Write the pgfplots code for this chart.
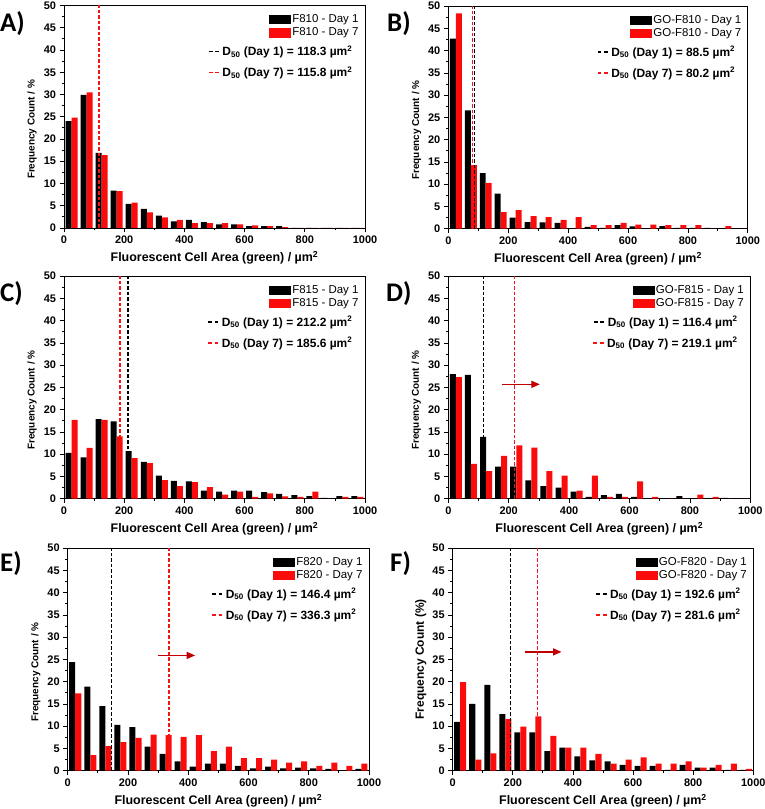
\documentclass[border=0pt]{standalone}
\usepackage{fontspec}
\setmainfont{Liberation Sans}
\newfontfamily\carlito{Carlito}
\usepackage{pgfplots}
\usepackage{pgfplotstable}
\pgfplotsset{compat=1.18}
\usetikzlibrary{arrows.meta}
\definecolor{barred}{RGB}{250,12,12}
\definecolor{arrowred}{RGB}{192,0,0}
\definecolor{dashred}{RGB}{245,20,20}

% x = bin centre, b = Day 1, r = Day 7
\pgfplotstableread{
x b r
25 24.0 24.8
75 29.9 30.5
125 16.9 16.4
175 8.4 8.3
225 5.4 5.7
275 4.3 3.5
325 2.8 2.4
375 1.5 1.8
425 1.8 1.1
475 1.3 1.1
525 0.8 1.1
575 0.8 0.8
625 0.4 0.6
675 0.4 0.4
725 0.4 0.2
775 0 0
825 0 0
875 0 0
925 0 0
975 0 0
}\tabA
\pgfplotstableread{
x b r
25 42.7 48.4
75 26.6 14.3
125 12.5 10.3
175 7.9 3.7
225 2.5 4.2
275 1.5 2.8
325 1.4 2.6
375 1.3 2.0
425 0 2.6
475 0.4 0.8
525 0.2 0.8
575 0.8 1.3
625 0.5 0.9
675 0 0.9
725 0.6 0.8
775 0.2 0.8
825 0.2 0.8
875 0.2 0
925 0 0.6
975 0 0
}\tabB
\pgfplotstableread{
x b r
25 10.3 17.7
75 9.3 11.4
125 17.9 17.7
175 17.4 14.0
225 10.7 9.1
275 8.3 8.0
325 5.2 4.2
375 4.0 2.8
425 3.9 3.7
475 1.8 2.6
525 1.6 0.9
575 1.8 1.6
625 1.8 0.4
675 1.5 1.2
725 1.1 0.5
775 0.8 0.4
825 0.6 1.6
875 0.2 0
925 0.6 0.4
975 0.6 0.4
}\tabC
\pgfplotstableread{
x b r
25 28.0 27.3
75 27.8 7.8
125 13.9 6.2
175 7.2 9.6
225 7.2 12.0
275 4.1 11.5
325 2.8 6.2
375 2.5 5.2
425 1.6 1.8
475 0.4 5.2
525 0.8 0.4
575 1.1 0.4
625 0.4 3.9
675 0 0.4
725 0 0
775 0.6 0
825 0 0.9
875 0 0.4
925 0.2 0
975 0 0
}\tabD
\pgfplotstableread{
x b r
25 24.4 17.4
75 18.9 3.5
125 14.5 5.5
175 10.3 6.4
225 9.8 7.4
275 5.4 8.1
325 3.8 8.0
375 2.1 7.6
425 0.9 8.0
475 1.6 4.4
525 1.6 5.4
575 1.1 2.8
625 0.5 2.8
675 0.9 2.5
725 0.5 1.8
775 0.7 2.1
825 0.5 1.1
875 0.4 1.8
925 0 1.1
975 0.4 1.6
}\tabE
\pgfplotstableread{
x b r
25 11.0 19.9
75 15.0 2.5
125 19.3 3.9
175 12.7 11.6
225 8.6 9.9
275 8.6 12.2
325 4.4 7.8
375 5.2 5.2
425 3.2 5.2
475 2.3 3.8
525 2.1 1.6
575 1.3 2.5
625 1.1 3.0
675 1.1 1.6
725 0.2 1.6
775 1.3 2.1
825 0.7 0.7
875 0.7 1.3
925 0.2 1.6
975 0.2 0.4
}\tabF

\newcommand{\dsh}[1]{{\color{#1}\rule[3.3bp]{3.8bp}{1.5bp}\hspace{2.6bp}\rule[3.3bp]{3.8bp}{1.5bp}}\hspace{3.5bp}}

\tikzset{
  dtext/.style={anchor=base east, inner sep=0pt, font=\fontsize{12}{14}\selectfont\bfseries},
  plab/.style={anchor=base west, inner sep=0pt, font=\carlito\bfseries\fontsize{27}{30}\selectfont},
}

\pgfplotsset{
  panel/.style={
    scale only axis, width=301bp, height=222.5bp,
    xmin=0, xmax=1000, ymin=0, ymax=50,
    xtick={0,200,...,1000}, ytick={0,5,...,50},
    minor xtick={100,300,...,900}, minor ytick={2.5,7.5,...,47.5},
    tick align=outside, tick pos=left,
    major tick length=4.5bp, minor tick length=2.5bp,
    axis line style={line width=0.8bp},
    tick style={black, line width=0.8bp},
    tick label style={font=\fontsize{11}{13}\selectfont\bfseries},
    /pgf/number format/assume math mode=true,
    /pgf/number format/1000 sep={},
    xlabel={Fluorescent Cell Area (green) / µm\textsuperscript{2}},
    ylabel={Frequency Count / \%},
    xlabel style={font=\fontsize{12.5}{14}\selectfont\bfseries, at={(axis description cs:0.5,-0.135)}, anchor=center},
    ylabel style={font=\fontsize{10}{12}\selectfont\bfseries, at={(axis description cs:-0.106,0.443)}, anchor=center},
    legend style={at={(1,1)}, anchor=north east, xshift=-5bp, yshift=-7bp, draw=none, fill=none,
      font=\fontsize{11.5}{13}\selectfont, inner sep=0pt, row sep=0pt,
      nodes={inner sep=1.3bp, text height=8.4bp, text depth=2.6bp}},
    legend cell align=left,
  },
  bk/.style={ybar, bar width=20, bar shift=0pt, fill=black, draw=none,
    legend image code/.code={\fill[black] (0bp,-4.65bp) rectangle (22bp,4.65bp);}},
  rd/.style={ybar, bar width=20, bar shift=0pt, fill=barred, draw=none,
    legend image code/.code={\fill[barred] (0bp,-4.65bp) rectangle (22bp,4.65bp);}},
  dl/.style={black, line width=1.3bp, dash pattern=on 3.5bp off 2bp, forget plot},
  dr/.style={dashred, line width=1.4bp, dash pattern=on 3.5bp off 2bp, forget plot},
  arr/.style={arrowred, line width=1.3bp, -{Triangle[length=8.5bp,width=7bp]}, forget plot},
}

\begin{document}
\begin{tikzpicture}
\path[use as bounding box] (0,0) rectangle (765bp,809bp);

\node[plab] at (0bp,777bp) {A)};
\node[plab] at (387bp,777bp) {B)};
\node[plab] at (0bp,507bp) {C)};
\node[plab] at (386bp,507bp) {D)};
\node[plab] at (0bp,237bp) {E)};
\node[plab] at (390bp,237bp) {F)};

% A
\begin{axis}[panel, at={(64bp,581bp)}, anchor=south west]
\addplot[bk] table[x expr=\thisrow{x}-10, y=b] {\tabA};
\addplot[rd] table[x expr=\thisrow{x}+10, y=r] {\tabA};
\addplot[dl] coordinates {(118.3,0) (118.3,50)};
\addplot[dr] coordinates {(115.8,0) (115.8,50)};
\legend{F810 - Day 1, F810 - Day 7}
\node[dtext, xshift=-12.5bp, yshift=-50bp] at (rel axis cs:1,1) {\dsh{black}D\textsubscript{50} (Day 1) = 118.3 µm\textsuperscript{2}};
\node[dtext, xshift=-12.5bp, yshift=-71bp] at (rel axis cs:1,1) {\dsh{dashred}D\textsubscript{50} (Day 7) = 115.8 µm\textsuperscript{2}};
\end{axis}

% B
\begin{axis}[panel, width=299.5bp, at={(448.3bp,580.3bp)}, anchor=south west]
\addplot[bk] table[x expr=\thisrow{x}-10, y=b] {\tabB};
\addplot[rd] table[x expr=\thisrow{x}+10, y=r] {\tabB};
\addplot[dl] coordinates {(88.5,0) (88.5,50)};
\addplot[dr] coordinates {(80.2,0) (80.2,50)};
\legend{GO-F810 - Day 1, GO-F810 - Day 7}
\node[dtext, xshift=-12.5bp, yshift=-50bp] at (rel axis cs:1,1) {\dsh{black}D\textsubscript{50} (Day 1) = 88.5 µm\textsuperscript{2}};
\node[dtext, xshift=-12.5bp, yshift=-71bp] at (rel axis cs:1,1) {\dsh{dashred}D\textsubscript{50} (Day 7) = 80.2 µm\textsuperscript{2}};
\end{axis}

% C
\begin{axis}[panel, at={(64bp,310.3bp)}, anchor=south west]
\addplot[bk] table[x expr=\thisrow{x}-10, y=b] {\tabC};
\addplot[rd] table[x expr=\thisrow{x}+10, y=r] {\tabC};
\addplot[dl] coordinates {(212.2,0) (212.2,50)};
\addplot[dr] coordinates {(185.6,0) (185.6,50)};
\legend{F815 - Day 1, F815 - Day 7}
\node[dtext, xshift=-12.5bp, yshift=-50bp] at (rel axis cs:1,1) {\dsh{black}D\textsubscript{50} (Day 1) = 212.2 µm\textsuperscript{2}};
\node[dtext, xshift=-12.5bp, yshift=-71bp] at (rel axis cs:1,1) {\dsh{dashred}D\textsubscript{50} (Day 7) = 185.6 µm\textsuperscript{2}};
\end{axis}

% D
\begin{axis}[panel, width=302bp, at={(448.3bp,310.3bp)}, anchor=south west]
\addplot[bk] table[x expr=\thisrow{x}-10, y=b] {\tabD};
\addplot[rd] table[x expr=\thisrow{x}+10, y=r] {\tabD};
\addplot[dl] coordinates {(116.4,0) (116.4,50)};
\addplot[dr] coordinates {(219.1,0) (219.1,50)};
\addplot[arr] coordinates {(178,25.7) (303,25.7)};
\legend{GO-F815 - Day 1, GO-F815 - Day 7}
\node[dtext, xshift=-12.5bp, yshift=-50bp] at (rel axis cs:1,1) {\dsh{black}D\textsubscript{50} (Day 1) = 116.4 µm\textsuperscript{2}};
\node[dtext, xshift=-12.5bp, yshift=-71bp] at (rel axis cs:1,1) {\dsh{dashred}D\textsubscript{50} (Day 7) = 219.1 µm\textsuperscript{2}};
\end{axis}

% E
\begin{axis}[panel, width=301.3bp, at={(67.7bp,38.3bp)}, anchor=south west]
\addplot[bk] table[x expr=\thisrow{x}-10, y=b] {\tabE};
\addplot[rd] table[x expr=\thisrow{x}+10, y=r] {\tabE};
\addplot[dl] coordinates {(146.4,0) (146.4,50)};
\addplot[dr] coordinates {(336.3,0) (336.3,50)};
\addplot[arr] coordinates {(299,25.9) (423,25.9)};
\legend{F820 - Day 1, F820 - Day 7}
\node[dtext, xshift=-12.5bp, yshift=-50bp] at (rel axis cs:1,1) {\dsh{black}D\textsubscript{50} (Day 1) = 146.4 µm\textsuperscript{2}};
\node[dtext, xshift=-12.5bp, yshift=-71bp] at (rel axis cs:1,1) {\dsh{dashred}D\textsubscript{50} (Day 7) = 336.3 µm\textsuperscript{2}};
\end{axis}

% F
\begin{axis}[panel, width=300.6bp, at={(452.7bp,38.3bp)}, anchor=south west, ylabel={Frequency Count (\%)},
  ylabel style={font=\fontsize{12}{14}\selectfont\bfseries, at={(axis description cs:-0.106,0.5)}}]
\addplot[bk] table[x expr=\thisrow{x}-10, y=b] {\tabF};
\addplot[rd] table[x expr=\thisrow{x}+10, y=r] {\tabF};
\addplot[dl] coordinates {(192.6,0) (192.6,50)};
\addplot[dr] coordinates {(281.6,0) (281.6,50)};
\addplot[arr] coordinates {(240,26.7) (362,26.7)};
\legend{GO-F820 - Day 1, GO-F820 - Day 7}
\node[dtext, xshift=-12.5bp, yshift=-50bp] at (rel axis cs:1,1) {\dsh{black}D\textsubscript{50} (Day 1) = 192.6 µm\textsuperscript{2}};
\node[dtext, xshift=-12.5bp, yshift=-71bp] at (rel axis cs:1,1) {\dsh{dashred}D\textsubscript{50} (Day 7) = 281.6 µm\textsuperscript{2}};
\end{axis}
\end{tikzpicture}
\end{document}
